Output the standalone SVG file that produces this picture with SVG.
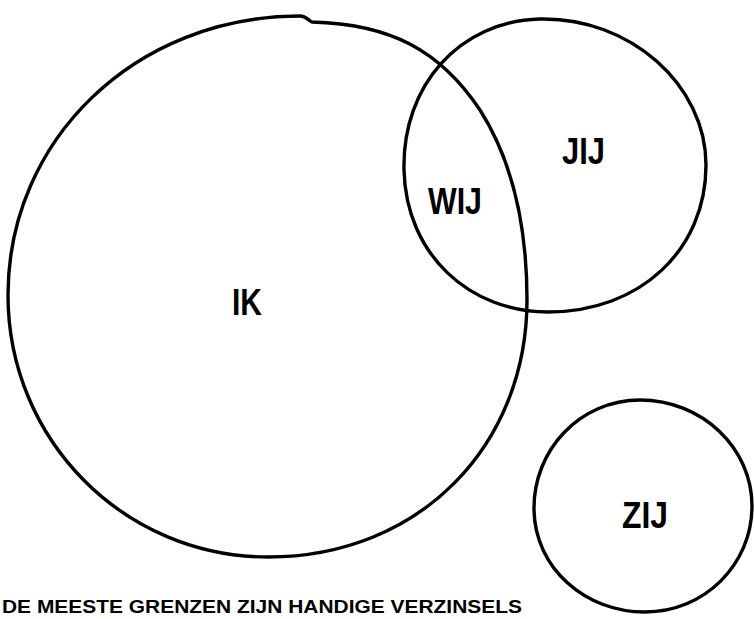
<svg xmlns="http://www.w3.org/2000/svg" width="754" height="619" viewBox="0 0 754 619">
<style>
.c{fill:none;stroke:#000;stroke-width:3.4;stroke-linecap:round;stroke-linejoin:round}
.t{font-family:"Liberation Sans","DejaVu Sans",sans-serif;font-weight:bold;fill:#000}
</style>
<rect width="754" height="619" fill="#fff"/>
<g id="connectors"></g>
<g id="ik">
<path class="c" d="M312,22 C390,24 440,50 480,110 C515,165 527,230 527,300 C527,445 420,557 268,557 C125,557 8,441 8,295 C8,140 135,16 300,16 C306,16 308,20 312,22"/>
<text class="t" x="232" y="315" font-size="36" textLength="30" lengthAdjust="spacingAndGlyphs">IK</text>
</g>
<g id="jij">
<path class="c" d="M540,19 C630,17 706,85 706,165 C706,250 640,312 548,312 C470,312 406,255 404,170 C402,85 460,21 540,19 Z"/>
<text class="t" x="562" y="164" font-size="36" textLength="43" lengthAdjust="spacingAndGlyphs">JIJ</text>
</g>
<g id="wij">
<text class="t" x="428" y="214" font-size="36" textLength="54" lengthAdjust="spacingAndGlyphs">WIJ</text>
</g>
<g id="zij">
<path class="c" d="M640,400 C702,400 752,448 752,506 C752,565 704,612 645,612 C585,612 535,568 534,510 C533,450 580,400 640,400 Z"/>
<text class="t" x="622" y="528" font-size="36" textLength="46" lengthAdjust="spacingAndGlyphs">ZIJ</text>
</g>
<text class="t" x="2" y="613" font-size="19" textLength="520" lengthAdjust="spacingAndGlyphs">DE MEESTE GRENZEN ZIJN HANDIGE VERZINSELS</text>
</svg>
